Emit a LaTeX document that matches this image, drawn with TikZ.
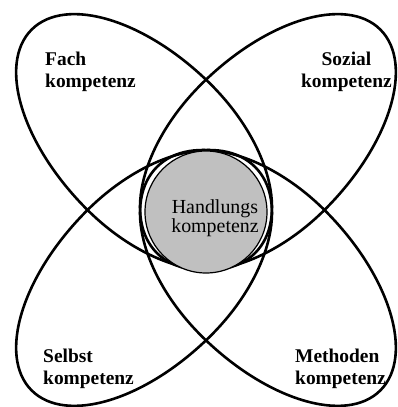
\documentclass[tikz,border=0pt]{standalone}
\usepackage{fontspec}
\setmainfont{Liberation Serif}
\definecolor{kernGrau}{RGB}{192,192,192}

\begin{document}
\begin{tikzpicture}[x=1bp,y=1bp,
  blatt/.style={draw=black,line width=2.6bp},
  kern/.style={draw=black,fill=kernGrau,line width=1.2bp},
  ecke/.style={inner sep=0pt,font=\bfseries\fontsize{19.5}{22}\selectfont}]
\useasboundingbox (0,0) rectangle (398,407);
\begin{scope}[shift={(149,260)},rotate=135]
\draw[blatt] (0,88) arc[start angle=90,end angle=-90,x radius=166,y radius=88] arc[start angle=270,end angle=90,x radius=150,y radius=88] -- cycle;
\end{scope}
\begin{scope}[shift={(263,260)},rotate=45]
\draw[blatt] (0,88) arc[start angle=90,end angle=-90,x radius=166,y radius=88] arc[start angle=270,end angle=90,x radius=150,y radius=88] -- cycle;
\end{scope}
\begin{scope}[shift={(149,134)},rotate=225]
\draw[blatt] (0,88) arc[start angle=90,end angle=-90,x radius=166,y radius=88] arc[start angle=270,end angle=90,x radius=150,y radius=88] -- cycle;
\end{scope}
\begin{scope}[shift={(263,134)},rotate=315]
\draw[blatt] (0,88) arc[start angle=90,end angle=-90,x radius=166,y radius=88] arc[start angle=270,end angle=90,x radius=150,y radius=88] -- cycle;
\end{scope}
\draw[kern] (206,195) circle (61);
\node[inner sep=0pt,align=center,font=\fontsize{20}{18}\selectfont] (handlung) at (215,189) {Handlungs\\kompetenz};
\node[ecke,anchor=north west,align=left] (fach) at (45,355) {Fach\\kompetenz};
\node[ecke,anchor=north east,align=center] (sozial) at (392,355) {Sozial\\kompetenz};
\node[ecke,anchor=north west,align=left] (selbst) at (43,58) {Selbst\\kompetenz};
\node[ecke,anchor=north west,align=left] (methoden) at (295,58) {Methoden\\kompetenz};
\end{tikzpicture}
\end{document}
